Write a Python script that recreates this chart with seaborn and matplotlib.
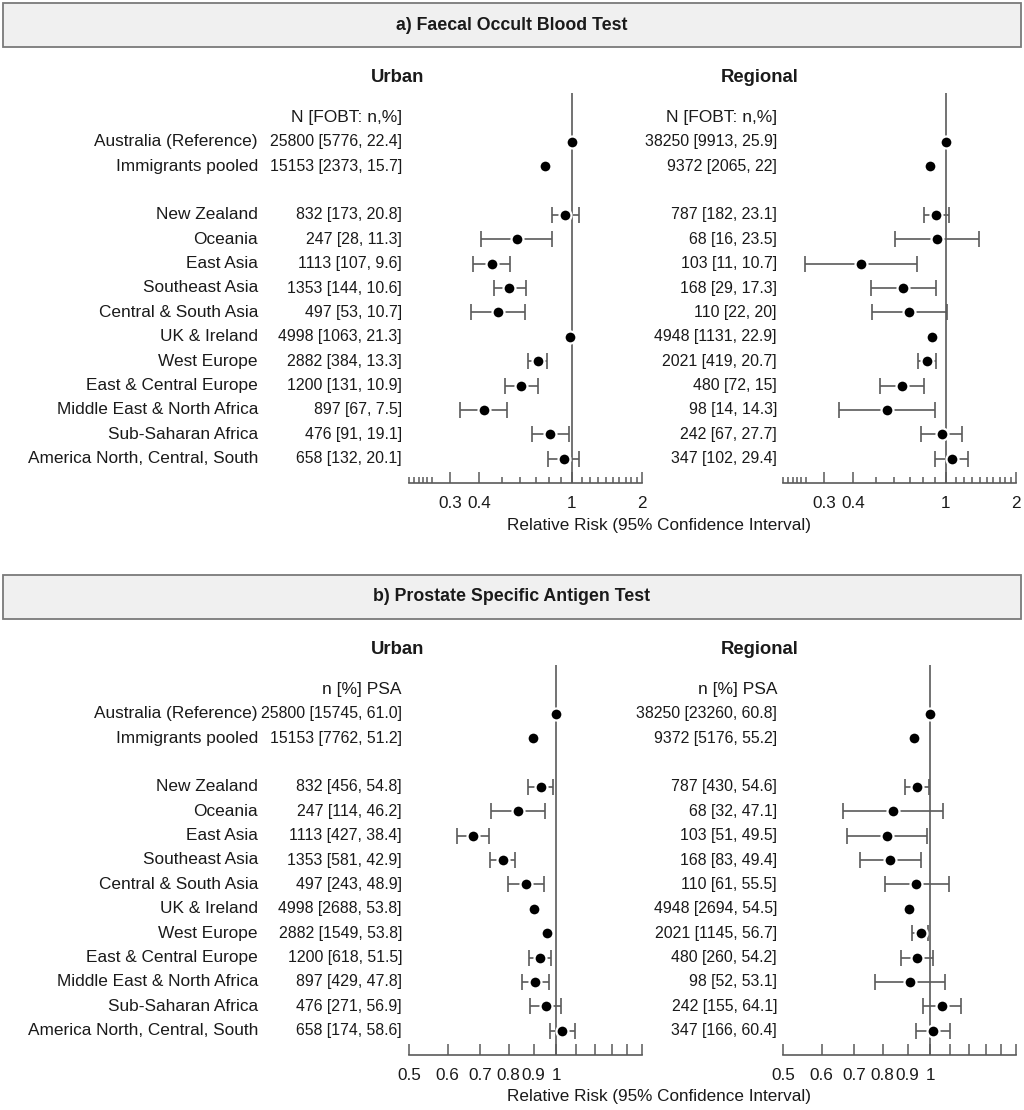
import numpy as np
import pandas as pd
import matplotlib.pyplot as plt
import matplotlib.transforms as mtransforms
from matplotlib.patches import Rectangle
from matplotlib.ticker import FixedLocator, NullFormatter
import seaborn as sns

nan = np.nan

regions = ['Australia (Reference)', 'Immigrants pooled', 'New Zealand', 'Oceania',
           'East Asia', 'Southeast Asia', 'Central & South Asia', 'UK & Ireland',
           'West Europe', 'East & Central Europe', 'Middle East & North Africa',
           'Sub-Saharan Africa', 'America North, Central, South']

# a) FOBT
fobt_urban_txt = ['25800 [5776, 22.4]', '15153 [2373, 15.7]', '832 [173, 20.8]', '247 [28, 11.3]',
                  '1113 [107, 9.6]', '1353 [144, 10.6]', '497 [53, 10.7]', '4998 [1063, 21.3]',
                  '2882 [384, 13.3]', '1200 [131, 10.9]', '897 [67, 7.5]', '476 [91, 19.1]',
                  '658 [132, 20.1]']
fobt_regional_txt = ['38250 [9913, 25.9]', '9372 [2065, 22]', '787 [182, 23.1]', '68 [16, 23.5]',
                     '103 [11, 10.7]', '168 [29, 17.3]', '110 [22, 20]', '4948 [1131, 22.9]',
                     '2021 [419, 20.7]', '480 [72, 15]', '98 [14, 14.3]', '242 [67, 27.7]',
                     '347 [102, 29.4]']
fobt_urban_rr = [1, 0.77, 0.933, 0.58, 0.455, 0.539, 0.482, 0.983, 0.713, 0.606, 0.418, 0.809, 0.926]
fobt_urban_lo = [nan, nan, 0.82, 0.407, 0.375, 0.463, 0.37, nan, 0.649, 0.515, 0.33, 0.674, 0.793]
fobt_urban_hi = [nan, nan, 1.07, 0.825, 0.545, 0.633, 0.628, nan, 0.785, 0.713, 0.525, 0.973, 1.076]
fobt_regional_rr = [1, 0.853, 0.908, 0.915, 0.432, 0.656, 0.698, 0.871, 0.828, 0.649, 0.558, 0.958, 1.061]
fobt_regional_lo = [nan, nan, 0.804, 0.604, 0.249, 0.478, 0.482, nan, 0.76, 0.524, 0.349, 0.78, 0.9]
fobt_regional_hi = [nan, nan, 1.027, 1.39, 0.75, 0.906, 1.013, nan, 0.906, 0.804, 0.9, 1.17, 1.243]

# b) PSA
psa_urban_txt = ['25800 [15745, 61.0]', '15153 [7762, 51.2]', '832 [456, 54.8]', '247 [114, 46.2]',
                 '1113 [427, 38.4]', '1353 [581, 42.9]', '497 [243, 48.9]', '4998 [2688, 53.8]',
                 '2882 [1549, 53.8]', '1200 [618, 51.5]', '897 [429, 47.8]', '476 [271, 56.9]',
                 '658 [174, 58.6]']
psa_regional_txt = ['38250 [23260, 60.8]', '9372 [5176, 55.2]', '787 [430, 54.6]', '68 [32, 47.1]',
                    '103 [51, 49.5]', '168 [83, 49.4]', '110 [61, 55.5]', '4948 [2694, 54.5]',
                    '2021 [1145, 56.7]', '480 [260, 54.2]', '98 [52, 53.1]', '242 [155, 64.1]',
                    '347 [166, 60.4]']
psa_urban_rr = [1, 0.896, 0.93, 0.835, 0.677, 0.78, 0.867, 0.903, 0.957, 0.929, 0.904, 0.953, 1.03]
psa_urban_lo = [nan, nan, 0.877, 0.736, 0.628, 0.733, 0.797, nan, nan, 0.88, 0.852, 0.885, 0.972]
psa_urban_hi = [nan, nan, 0.987, 0.949, 0.729, 0.825, 0.945, nan, nan, 0.978, 0.968, 1.025, 1.092]
psa_regional_rr = [1, 0.927, 0.94, 0.841, 0.815, 0.828, 0.936, 0.906, 0.958, 0.942, 0.908, 1.058, 1.013]
psa_regional_lo = [nan, nan, 0.889, 0.664, 0.675, 0.718, 0.807, nan, 0.92, 0.873, 0.771, 0.969, 0.936]
psa_regional_hi = [nan, nan, 0.997, 1.062, 0.984, 0.957, 1.095, nan, 0.989, 1.016, 1.072, 1.158, 1.099]

# row 0 = column header, row 3 left empty
rows = [1, 2] + list(range(4, 15))

sns.set_style('white')
plt.rcParams['font.family'] = ['Liberation Sans', 'DejaVu Sans']
FS = 12.3        # tick labels, axis title
FS_NAME = 12.4   # region names
FS_NUM = 11.4    # N [n, %] columns
FS_HEAD = 12.5
TXT = '#1a1a1a'
GREY = '#5a5a5a'

W, H = 1024, 1110
fig = plt.figure(figsize=(W / 100, H / 100), dpi=100)


def fx(px):
    return px / W


def fy(py):
    return 1 - py / H


def panel(ax, rr, lo, hi, xlim, majors, labels, minors, major_len, minor_len):
    df = pd.DataFrame({'row': rows, 'rr': rr, 'lo': lo, 'hi': hi})
    ci = df.dropna()
    ax.errorbar(ci['rr'], ci['row'], xerr=[ci['rr'] - ci['lo'], ci['hi'] - ci['rr']],
                fmt='none', ecolor=GREY, elinewidth=1.2, capsize=5.5, capthick=1.2, zorder=2)
    ax.axvline(1, color=GREY, lw=1.2, zorder=1)
    sns.scatterplot(data=df, x='rr', y='row', ax=ax, color='black', s=74,
                    edgecolor='white', linewidth=1.6, zorder=3, legend=False)
    ax.set_xscale('log')
    ax.set_xlim(*xlim)
    ax.set_ylim(15, -1)
    for s in ['left', 'top', 'right']:
        ax.spines[s].set_visible(False)
    ax.spines['bottom'].set_color(GREY)
    ax.spines['bottom'].set_linewidth(1.2)
    ax.set_yticks([])
    ax.xaxis.set_major_locator(FixedLocator(majors))
    ax.set_xticklabels(labels)
    ax.xaxis.set_minor_locator(FixedLocator(minors))
    ax.xaxis.set_minor_formatter(NullFormatter())
    ax.tick_params(axis='x', which='both', bottom=True, top=False)
    ax.tick_params(axis='x', which='major', direction='in', length=major_len, width=1.1,
                   color=GREY, pad=9, labelsize=FS, labelcolor=TXT)
    ax.tick_params(axis='x', which='minor', direction='in', length=minor_len, width=1.1,
                   color=GREY)
    ax.set_xlabel('')
    ax.set_ylabel('')
    ax.patch.set_alpha(0)


def block(top_px, title, header, urban_txt, regional_txt, data, xlim, majors, labels,
          minors, major_len, minor_len):
    # grey title box
    fig.patches.append(Rectangle((fx(3), fy(top_px + 44)), fx(1018), 44 / H,
                                 transform=fig.transFigure, facecolor='#f0f0f0',
                                 edgecolor='#7a7a7a', lw=1.3))
    fig.text(0.5, fy(top_px + 22), title, ha='center', va='center', fontsize=FS + 0.5,
             fontweight='bold', color=TXT)
    fig.text(fx(398), fy(top_px + 75), 'Urban', ha='center', va='center', fontsize=FS + 1,
             fontweight='bold', color=TXT)
    fig.text(fx(760), fy(top_px + 75), 'Regional', ha='center', va='center', fontsize=FS + 1,
             fontweight='bold', color=TXT)

    ax_top, ax_bot = top_px + 90, top_px + 480
    axes = []
    for left_px, (rr, lo, hi) in zip([409, 783], data):
        ax = fig.add_axes([fx(left_px), fy(ax_bot), 233 / W, (ax_bot - ax_top) / H])
        panel(ax, rr, lo, hi, xlim, majors, labels, minors, major_len, minor_len)
        axes.append(ax)

    tr = mtransforms.blended_transform_factory(fig.transFigure, axes[0].transData)
    fig.text(fx(402), 0, header, transform=tr, ha='right', va='center', fontsize=FS_HEAD, color=TXT)
    fig.text(fx(777), 0, header, transform=tr, ha='right', va='center', fontsize=FS_HEAD, color=TXT)
    for r, name, ut, rt in zip(rows, regions, urban_txt, regional_txt):
        fig.text(fx(258), r, name, transform=tr, ha='right', va='center', fontsize=FS_NAME, color=TXT)
        fig.text(fx(402), r, ut, transform=tr, ha='right', va='center', fontsize=FS_NUM, color=TXT)
        fig.text(fx(777), r, rt, transform=tr, ha='right', va='center', fontsize=FS_NUM, color=TXT)

    fig.text(fx(659), fy(ax_bot + 42), 'Relative Risk (95% Confidence Interval)',
             ha='center', va='center', fontsize=FS, color=TXT)


block(3, 'a) Faecal Occult Blood Test', 'N [FOBT: n,%]', fobt_urban_txt, fobt_regional_txt,
      [(fobt_urban_rr, fobt_urban_lo, fobt_urban_hi),
       (fobt_regional_rr, fobt_regional_lo, fobt_regional_hi)],
      (0.2, 2), [0.3, 0.4, 1, 2], ['0.3', '0.4', '1', '2'],
      [0.2, 0.21, 0.22, 0.23, 0.24, 0.25, 0.5, 0.6, 0.7, 0.8, 0.9,
       1.1, 1.2, 1.3, 1.4, 1.5, 1.6, 1.7, 1.8, 1.9], 8, 4)

block(575, 'b) Prostate Specific Antigen Test', 'n [%] PSA', psa_urban_txt, psa_regional_txt,
      [(psa_urban_rr, psa_urban_lo, psa_urban_hi),
       (psa_regional_rr, psa_regional_lo, psa_regional_hi)],
      (0.5, 1.5), [0.5, 0.6, 0.7, 0.8, 0.9, 1], ['0.5', '0.6', '0.7', '0.8', '0.9', '1'],
      [1.1, 1.2, 1.3, 1.4, 1.5], 8, 8)

fig.savefig('out.png', dpi=100, facecolor='white')
